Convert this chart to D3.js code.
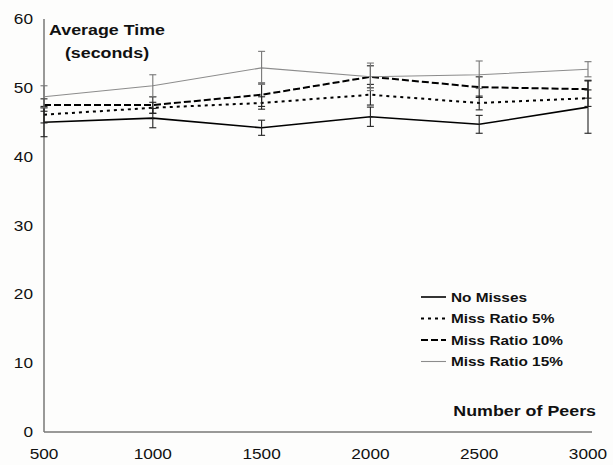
<!DOCTYPE html>
<html>
<head>
<meta charset="utf-8">
<script src="https://cdn.jsdelivr.net/npm/d3@7"></script>
<style>
  body { margin: 0; background: #fdfdfc; }
  svg { display: block; font-family: "Liberation Sans", Arial, sans-serif; }
</style>
</head>
<body>
<div id="app"></div>
<script>
const w = 613;
const h = 465;

// data
const peers = [500, 1000, 1500, 2000, 2500, 3000];
const seriesNames = ['No Misses', 'Miss Ratio 5%', 'Miss Ratio 10%', 'Miss Ratio 15%'];
const noMisses = [45.0, 45.6, 44.2, 45.8, 44.7, 47.2];
const miss5 = [46.1, 47.1, 47.8, 49.0, 47.8, 48.5];
const miss10 = [47.5, 47.5, 49.0, 51.6, 50.1, 49.8];
const miss15 = [48.7, 50.3, 52.9, 51.6, 51.9, 52.7];
const errNoMisses = [2.1, 1.4, 1.1, 1.4, 1.3, 3.8];
const err5 = [1.2, 0.8, 0.9, 1.5, 1.0, 1.2];
const err10 = [0.9, 1.2, 1.7, 1.6, 1.5, 1.3];
const err15 = [1.6, 1.6, 2.4, 2.0, 2.0, 1.1];
const yTicks = [0, 10, 20, 30, 40, 50, 60];

const styles = [
  { stroke: '#000', width: 1.6, dash: null },
  { stroke: '#000', width: 2, dash: '3,4' },
  { stroke: '#000', width: 2, dash: '7,3' },
  { stroke: '#8c8c8c', width: 1.1, dash: null }
];

const series = [noMisses, miss5, miss10, miss15].map((vals, i) => ({
  name: seriesNames[i],
  values: vals,
  err: [errNoMisses, err5, err10, err15][i],
  style: styles[i]
}));

// the original picture is stretched sideways, so text gets widened too
const stretch = 1.23;

const x = d3.scaleLinear().domain([500, 3000]).range([44, 588]);
const y = d3.scaleLinear().domain([0, 60]).range([432, 19]);

const svg = d3.select('#app')
  .append('svg')
  .attr('width', w)
  .attr('height', h);

const addText = (parent, tx, ty, str, size, anchor, bold) =>
  parent.append('text')
    .attr('transform', `translate(${tx},${ty}) scale(${stretch},1)`)
    .attr('text-anchor', anchor)
    .attr('font-size', size)
    .attr('font-weight', bold ? 'bold' : 'normal')
    .attr('fill', '#111')
    .text(str);

//////////AXES//////////

svg.append('line')
  .attr('x1', x(500)).attr('x2', x(500))
  .attr('y1', y(60)).attr('y2', y(0))
  .attr('stroke', '#777').attr('stroke-width', 1.5);

svg.append('line')
  .attr('x1', x(500)).attr('x2', x(3000) + 4)
  .attr('y1', y(0)).attr('y2', y(0))
  .attr('stroke', '#777').attr('stroke-width', 1.5);

yTicks.forEach(d => addText(svg, 33, y(d) + 5, d, 14, 'end', false));
peers.forEach(d => addText(svg, x(d), 459, d, 14, 'middle', false));

//////////LINES//////////

const line = d3.line()
  .x((d, i) => x(peers[i]))
  .y(d => y(d));

series.forEach(s => {
  svg.append('path')
    .datum(s.values)
    .attr('fill', 'none')
    .attr('stroke', s.style.stroke)
    .attr('stroke-width', s.style.width)
    .attr('stroke-dasharray', s.style.dash)
    .attr('d', line);
});

//////////ERROR BARS//////////

series.forEach(s => {
  const g = svg.append('g')
    .attr('stroke', s.style.stroke === '#000' ? '#222' : '#777')
    .attr('stroke-width', 1.1);
  s.values.forEach((v, i) => {
    const cx = x(peers[i]);
    const top = y(v + s.err[i]);
    const bot = y(v - s.err[i]);
    g.append('line').attr('x1', cx).attr('x2', cx).attr('y1', top).attr('y2', bot);
    g.append('line').attr('x1', cx - 3.5).attr('x2', cx + 3.5).attr('y1', top).attr('y2', top);
    g.append('line').attr('x1', cx - 3.5).attr('x2', cx + 3.5).attr('y1', bot).attr('y2', bot);
  });
});

//////////LEGEND//////////

const legend = svg.append('g')
  .attr('transform', 'translate(421,297)');

series.forEach((s, i) => {
  legend.append('line')
    .attr('x1', 0).attr('x2', 25)
    .attr('y1', i * 21.5).attr('y2', i * 21.5)
    .attr('stroke', s.style.stroke)
    .attr('stroke-width', s.style.width)
    .attr('stroke-dasharray', s.style.dash);
  addText(legend, 30, i * 21.5 + 4.5, s.name, 12.5, 'start', true);
});

//////////TITLES//////////

addText(svg, 107, 35, 'Average Time', 14.5, 'middle', true);
addText(svg, 107, 58, '(seconds)', 14.5, 'middle', true);
addText(svg, 596, 416, 'Number of Peers', 14.5, 'end', true);
</script>
</body>
</html>
